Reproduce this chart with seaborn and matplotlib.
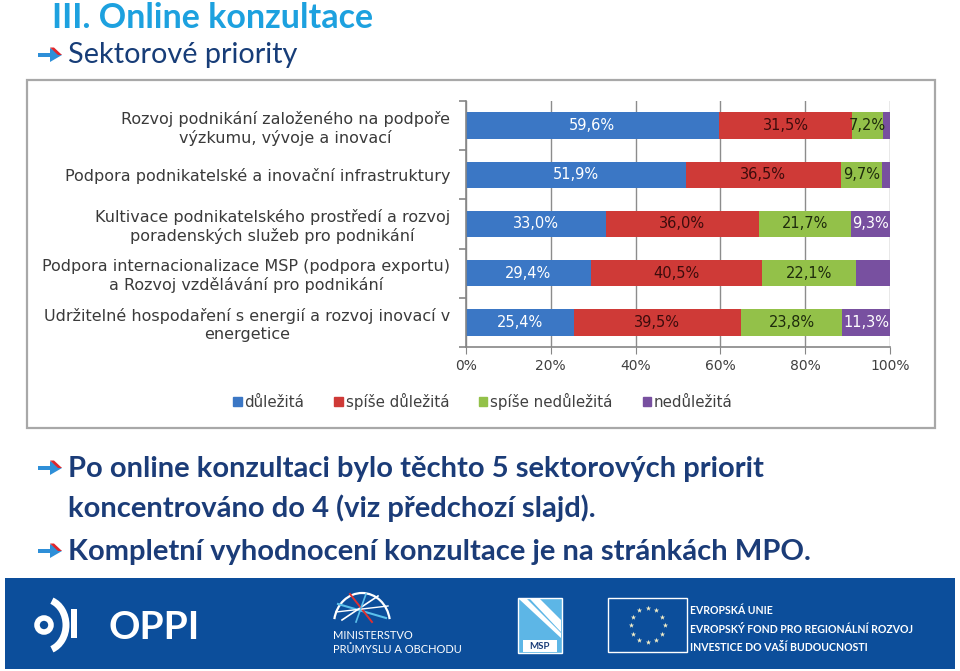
import numpy as np
import pandas as pd
import matplotlib
matplotlib.use("Agg")
import matplotlib.pyplot as plt
import seaborn as sns
from matplotlib.patches import Rectangle, Circle, Arc, Polygon

# ---------------- data ----------------
categories = [
    "Rozvoj podnikání založeného na podpoře\nvýzkumu, vývoje a inovací",
    "Podpora podnikatelské a inovační infrastruktury",
    "Kultivace podnikatelského prostředí a rozvoj\nporadenských služeb pro podnikání",
    "Podpora internacionalizace MSP (podpora exportu)\na Rozvoj vzdělávání pro podnikání",
    "Udržitelné hospodaření s energií a rozvoj inovací v\nenergetice",
]
series_names = ["důležitá", "spíše důležitá", "spíše nedůležitá", "nedůležitá"]
dulezita = [59.6, 51.9, 33.0, 29.4, 25.4]
spise_dulezita = [31.5, 36.5, 36.0, 40.5, 39.5]
spise_nedulezita = [7.2, 9.7, 21.7, 22.1, 23.8]
nedulezita = [1.7, 1.9, 9.3, 8.0, 11.3]
labels_shown = [
    [True, True, True, True, True],
    [True, True, True, True, True],
    [True, True, True, True, True],
    [False, False, True, False, True],
]
x_ticks = [0, 20, 40, 60, 80, 100]
x_tick_labels = ["0%", "20%", "40%", "60%", "80%", "100%"]

colors = ["#3B77C5", "#CF3A37", "#93C149", "#7850A0"]
label_colors = ["white", "#3d0c0c", "#1e2b0c", "white"]

# ---------------- figure ----------------
fig = plt.figure(figsize=(9.6, 6.71), dpi=100, facecolor="white")
bg = fig.add_axes([0, 0, 1, 1], zorder=0)
bg.set_xlim(0, 960)
bg.set_ylim(671, 0)
bg.axis("off")

# chart panel
bg.add_patch(Rectangle((27, 80), 908, 348, facecolor="white", edgecolor="#a8a8a8", lw=1.6))

# ---------------- chart ----------------
ax = fig.add_axes([466 / 960, 1 - 347 / 671, 424 / 960, 246 / 671], zorder=2)
ax.patch.set_alpha(0)

df = pd.DataFrame({
    "kategorie": categories,
    series_names[0]: dulezita,
    series_names[1]: spise_dulezita,
    series_names[2]: spise_nedulezita,
    series_names[3]: nedulezita,
})
cum = df[series_names].cumsum(axis=1)

for name, col in reversed(list(zip(series_names, colors))):
    sns.barplot(x=cum[name], y=df["kategorie"], orient="h", color=col,
                saturation=1, width=0.54, errorbar=None, linewidth=0,
                ax=ax, zorder=2)
if ax.get_legend() is not None:
    ax.get_legend().remove()

ax.set_xlim(0, 100)
ax.set_ylim(4.5, -0.5)
ax.set_xlabel("")
ax.set_ylabel("")
ax.set_axisbelow(True)
ax.xaxis.grid(True, color="#8c8c8c", lw=1)
ax.yaxis.grid(False)
for s in ["top", "right"]:
    ax.spines[s].set_visible(False)
for s in ["left", "bottom"]:
    ax.spines[s].set_color("#868686")
    ax.spines[s].set_linewidth(1.2)

ax.set_xticks(x_ticks)
ax.set_xticklabels(x_tick_labels)
ax.tick_params(axis="x", length=5, direction="out", color="#868686",
               labelsize=10, labelcolor="#404040", pad=4)
ax.set_yticks(range(len(categories)))
ax.set_yticklabels(categories, multialignment="center", fontsize=11.5, color="#3a3a3a",
                   linespacing=1.2)
ax.tick_params(axis="y", which="major", length=0, pad=11.5)
ax.set_yticks(np.arange(-0.5, len(categories), 1), minor=True)
ax.tick_params(axis="y", which="minor", length=5, color="#868686", width=1.2)

for i, name in enumerate(series_names):
    for j in range(len(categories)):
        if not labels_shown[i][j]:
            continue
        v = df[name].iloc[j]
        xc = cum[name].iloc[j] - v / 2
        ax.text(xc, j, f"{v:.1f}".replace(".", ",") + "%", ha="center", va="center",
                color=label_colors[i], fontsize=10.5, zorder=3)

handles = [Rectangle((0, 0), 1, 1, color=c) for c in colors]
fig.legend(handles, series_names, loc="center", bbox_to_anchor=(483 / 960, 1 - 401 / 671),
           ncol=4, frameon=False, fontsize=10.8, handlelength=0.55, handleheight=0.55,
           handletextpad=0.2, columnspacing=2.0, labelcolor="#404040")

# ---------------- slide text ----------------
def arrow(x, y):
    bg.add_patch(Rectangle((x, y - 2.2), 14, 4.4, color="#2E8FD8", lw=0))
    bg.add_patch(Polygon([(x + 12, y - 7), (x + 24, y), (x + 12, y + 7)], closed=True,
                         color="#2E8FD8", lw=0))
    bg.add_patch(Polygon([(x + 12, y - 7.5), (x + 16, y - 7.5), (x + 24, y), (x + 20, y)],
                         closed=True, color="#E0262B", lw=0))

bg.text(52, 28, "III. Online konzultace", fontfamily="Lato", fontweight="bold",
        fontsize=24.5, color="#1DA1DF", va="baseline")
arrow(38, 55)
bg.text(68, 63, "Sektorové priority", fontfamily="Lato", fontsize=20.8,
        color="#173D78", va="baseline")

btxt = dict(fontfamily="Lato", fontweight="bold", fontsize=21, color="#1B3C78", va="baseline")
arrow(38, 468)
bg.text(68, 477, "Po online konzultaci bylo těchto 5 sektorových priorit", **btxt)
bg.text(68, 517, "koncentrováno do 4 (viz předchozí slajd).", **btxt)
arrow(38, 551)
bg.text(68, 560, "Kompletní vyhodnocení konzultace je na stránkách MPO.", **btxt)

# ---------------- footer ----------------
bg.add_patch(Rectangle((5, 578), 950, 91, color="#0C4E9B", lw=0))
# OPPI logo
bg.add_patch(Circle((44, 625), 7, facecolor="none", edgecolor="white", lw=4))
bg.add_patch(Arc((44, 625), 44, 52, theta1=-72, theta2=72, color="white", lw=5))
bg.add_patch(Rectangle((71, 609), 6, 29, color="white", lw=0))
bg.text(108, 639, "OPPI", fontfamily="Lato", fontweight="bold", fontsize=28,
        color="white", va="baseline")
# Ministry logo
bg.add_patch(Arc((362, 624), 56, 62, theta1=190, theta2=350, color="white", lw=1.6))
bg.plot([338, 386], [604, 618], color="#5BC0EB", lw=1.5)
bg.plot([342, 378], [620, 596], color="white", lw=1.2)
bg.plot([350, 372], [594, 622], color="#E03030", lw=1.4)
bg.plot([336, 388], [612, 606], color="white", lw=1.0)
bg.plot([356, 366], [622, 594], color="#5BC0EB", lw=1.2)
bg.text(333, 639, "MINISTERSTVO", fontfamily="Lato", fontsize=8, color="white", va="baseline")
bg.text(333, 653, "PRŮMYSLU A OBCHODU", fontfamily="Lato", fontsize=8, color="white", va="baseline")
# MSP logo
bg.add_patch(Rectangle((518, 598), 44, 55, facecolor="#5DB6E6", edgecolor="white", lw=1))
bg.add_patch(Polygon([(519, 599), (540, 599), (561, 620), (561, 632), (530, 599)],
                     closed=True, color="white", lw=0))
bg.add_patch(Polygon([(519, 599), (527, 599), (561, 633), (561, 638)], closed=True,
                     color="white", lw=0))
bg.add_patch(Rectangle((523, 640), 34, 12, color="white", lw=0))
bg.text(540, 646.5, "MSP", fontfamily="Lato", fontweight="bold", fontsize=7,
        color="#1B3C78", ha="center", va="center")
# EU flag
bg.add_patch(Rectangle((608, 598), 79, 54, facecolor="none", edgecolor="white", lw=1))
ang = np.deg2rad(np.arange(0, 360, 30))
bg.scatter(647.5 + 17 * np.cos(ang), 625 + 17 * np.sin(ang), marker="*", s=16,
           color="#F4EFC8", lw=0)
etxt = dict(fontfamily="Lato", fontweight="bold", fontsize=7.6, color="white", va="baseline")
bg.text(690, 614, "EVROPSKÁ UNIE", **etxt)
bg.text(690, 633, "EVROPSKÝ FOND PRO REGIONÁLNÍ ROZVOJ", **etxt)
bg.text(690, 651, "INVESTICE DO VAŠÍ BUDOUCNOSTI", **etxt)

fig.savefig("out.png", dpi=100, facecolor="white")
